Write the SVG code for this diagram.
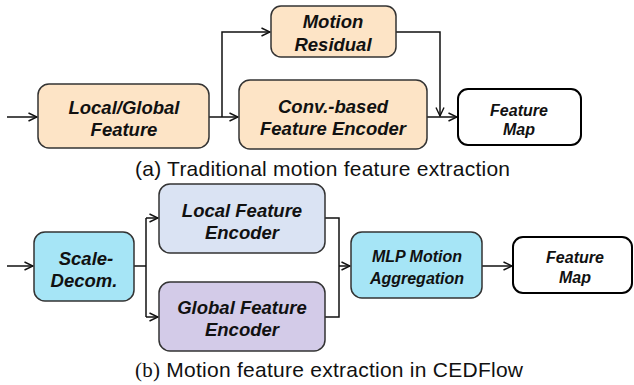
<svg xmlns="http://www.w3.org/2000/svg" width="634" height="385" viewBox="0 0 634 385">
<defs>
<marker id="arr" viewBox="0 0 10 10" refX="9.5" refY="5" markerWidth="10" markerHeight="10" markerUnits="userSpaceOnUse" orient="auto">
<path d="M1,1 L9.5,5 L1,9" fill="none" stroke="#111" stroke-width="1.4"/>
</marker>
<style>
.box{stroke:#333;stroke-width:1.5}
.org{fill:#fde4c6}
.cyan{fill:#a6e5f6}
.loc{fill:#dae3f3}
.glo{fill:#d3cbe8}
.wht{fill:#fff;stroke:#000;stroke-width:2}
.lbl{font-family:"Liberation Sans",Arial,sans-serif;font-weight:bold;font-style:italic;text-anchor:middle;fill:#111}
.l18{font-size:18.5px}
.l16{font-size:16px}
.l15{font-size:16px}
.cap{font-family:"Liberation Sans",Arial,sans-serif;font-size:21px;fill:#111}
.con{fill:none;stroke:#111;stroke-width:1.5}
</style>
</defs>

<g id="connectors">
<path class="con" d="M7,117 H37" marker-end="url(#arr)"/>
<path class="con" d="M209,117 H238" marker-end="url(#arr)"/>
<path class="con" d="M222,117 V32 H270" marker-end="url(#arr)"/>
<path class="con" d="M396,32 H440 V116" marker-end="url(#arr)"/>
<path class="con" d="M427,117 H457" marker-end="url(#arr)"/>
<path class="con" d="M7,266 H33" marker-end="url(#arr)"/>
<path class="con" d="M134,266 H146"/>
<path class="con" d="M146,218 V317"/>
<path class="con" d="M146,218 H158" marker-end="url(#arr)"/>
<path class="con" d="M146,317 H158" marker-end="url(#arr)"/>
<path class="con" d="M325,218 H339 V317 H325"/>
<path class="con" d="M339,266 H350" marker-end="url(#arr)"/>
<path class="con" d="M482,266 H512" marker-end="url(#arr)"/>
</g>

<g id="local-global-feature">
<rect class="box org" x="38" y="84" width="171" height="64" rx="11"/>
<text class="lbl l18" x="124" y="114">Local/Global</text>
<text class="lbl l18" x="124" y="136">Feature</text>
</g>

<g id="motion-residual">
<rect class="box org" x="271" y="6" width="125" height="51" rx="10"/>
<text class="lbl l18" x="333" y="28">Motion</text>
<text class="lbl l18" x="333" y="51">Residual</text>
</g>

<g id="conv-encoder">
<rect class="box org" x="239" y="80" width="188" height="69" rx="11"/>
<text class="lbl l18" x="333" y="113">Conv.-based</text>
<text class="lbl l18" x="333" y="135">Feature Encoder</text>
</g>

<g id="feature-map-a">
<rect class="wht" x="458" y="89" width="123" height="56" rx="10"/>
<text class="lbl l15" x="519" y="116">Feature</text>
<text class="lbl l15" x="519" y="135">Map</text>
</g>

<text class="cap" x="135" y="176" textLength="375" lengthAdjust="spacing">(a) Traditional motion feature extraction</text>

<g id="scale-decom">
<rect class="box cyan" x="34" y="232" width="100" height="69" rx="11"/>
<text class="lbl l18" x="86" y="265">Scale-</text>
<text class="lbl l18" x="84" y="287">Decom.</text>
</g>

<g id="local-feature-encoder">
<rect class="box loc" x="159" y="184" width="166" height="69" rx="11"/>
<text class="lbl l18" x="242" y="217">Local Feature</text>
<text class="lbl l18" x="242" y="239">Encoder</text>
</g>

<g id="global-feature-encoder">
<rect class="box glo" x="159" y="282" width="166" height="69" rx="11"/>
<text class="lbl l18" x="242" y="314">Global Feature</text>
<text class="lbl l18" x="242" y="336">Encoder</text>
</g>

<g id="mlp-motion-aggregation">
<rect class="box cyan" x="351" y="232" width="131" height="66" rx="11"/>
<text class="lbl l16" x="417" y="262">MLP Motion</text>
<text class="lbl l16" x="417" y="284">Aggregation</text>
</g>

<g id="feature-map-b">
<rect class="wht" x="513" y="237" width="119" height="56" rx="10"/>
<text class="lbl l15" x="575" y="263">Feature</text>
<text class="lbl l15" x="575" y="283">Map</text>
</g>

<text class="cap" x="135" y="377" textLength="388" lengthAdjust="spacing"><tspan font-family="'Liberation Serif','Times New Roman',serif">(b)</tspan> Motion feature extraction in CEDFlow</text>
</svg>
